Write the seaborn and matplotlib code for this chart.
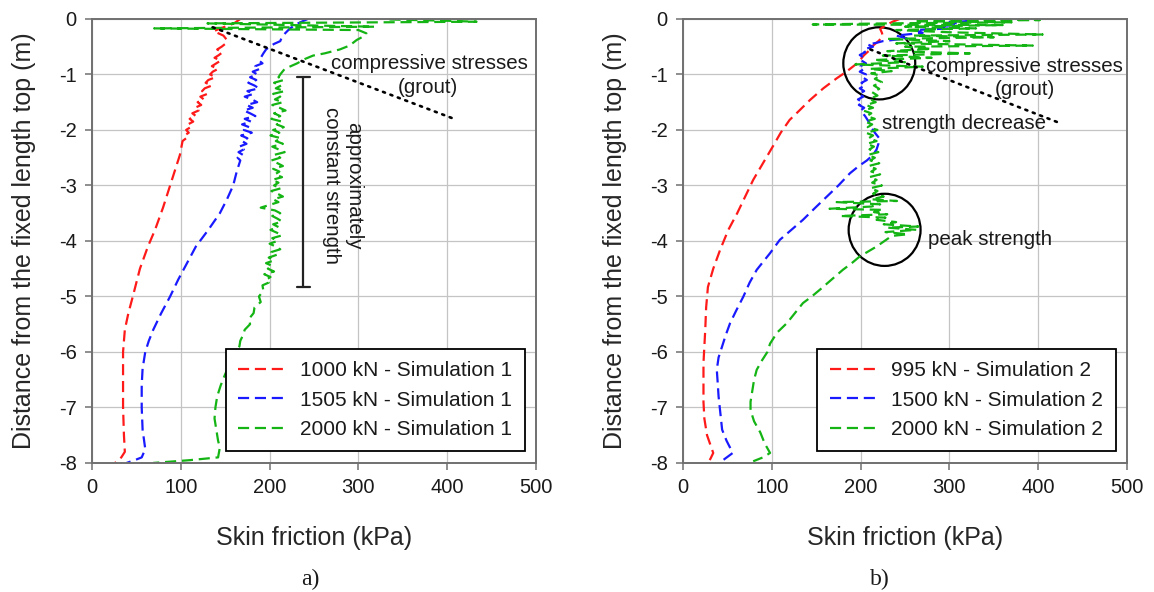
import matplotlib
matplotlib.use("Agg")
import matplotlib.pyplot as plt
from matplotlib.patches import Ellipse
import seaborn as sns

# ---------------- Simulation 1 (panel a) ----------------
s1_red_label = "1000 kN - Simulation 1"
s1_red_depth = [0.0, -0.08, -0.15, -0.22, -0.30, -0.38, -0.45,
                -0.50, -0.55, -0.60, -0.65, -0.70, -0.75, -0.80, -0.85, -0.90, -0.95,
                -1.00, -1.05, -1.10, -1.15, -1.20, -1.25, -1.30, -1.35, -1.40, -1.45,
                -1.50, -1.55, -1.60, -1.65, -1.70, -1.75, -1.80, -1.85, -1.90, -1.95,
                -2.00, -2.05, -2.10, -2.15, -2.20,
                -2.45, -2.65, -3.00, -3.40, -3.80, -4.10, -4.50, -5.00, -5.30, -5.60,
                -6.00, -6.50, -7.00, -7.50, -7.80, -7.90, -8.00]
s1_red_fric = [167, 160, 148, 137, 148, 152, 150,
               146, 141, 147, 143, 138, 145, 140, 135, 142, 136,
               133, 139, 131, 128, 135, 127, 124, 130, 122, 126,
               119, 123, 116, 120, 113, 117, 110, 114, 108, 111,
               106, 109, 104, 106, 102,
               99, 95, 88, 80, 71, 63, 54, 46, 41, 37,
               35, 35, 35, 36, 37, 33, 26]

s1_blue_label = "1505 kN - Simulation 1"
s1_blue_depth = [0.0, -0.08, -0.17, -0.25, -0.32, -0.40, -0.45, -0.50, -0.55, -0.62, -0.70,
                 -0.75, -0.80, -0.85, -0.90, -0.95, -1.00, -1.05, -1.10, -1.15, -1.20,
                 -1.25, -1.30, -1.35, -1.40, -1.45, -1.50, -1.55, -1.60, -1.65, -1.70,
                 -1.75, -1.80, -1.85, -1.90, -1.95, -2.00, -2.05, -2.10, -2.15, -2.20,
                 -2.25, -2.30, -2.35, -2.40, -2.45, -2.50, -2.55,
                 -2.75, -3.00, -3.25, -3.50, -3.80, -4.10, -4.40, -4.70, -5.00, -5.30,
                 -5.60, -5.80, -6.00, -6.30, -6.60, -7.00, -7.40, -7.75, -7.90, -7.95, -8.00]
s1_blue_fric = [243, 232, 223, 218, 214, 212, 205, 200, 196, 193, 190,
                188, 192, 184, 189, 181, 186, 178, 185, 176, 183,
                188, 175, 182, 172, 180, 186, 174, 181, 171, 178,
                184, 172, 179, 169, 177, 171, 180, 168, 175, 169,
                174, 166, 171, 165, 170, 164, 167,
                163, 159, 152, 144, 131, 117, 107, 97, 88, 78,
                69, 64, 60, 57, 56, 56, 57, 60, 56, 48, 39]

s1_green_label = "2000 kN - Simulation 1"
s1_green_depth = [-0.01, -0.03, -0.05, -0.08, -0.14, -0.17, -0.20, -0.26, -0.32, -0.38,
                  -0.48, -0.55, -0.62, -0.66, -0.72, -0.80, -0.90, -1.00,
                  -1.05, -1.10, -1.15, -1.20, -1.25, -1.30, -1.35, -1.40, -1.45, -1.50,
                  -1.55, -1.60, -1.65, -1.70, -1.75, -1.80, -1.85, -1.90, -1.95, -2.00,
                  -2.05, -2.10, -2.15, -2.20, -2.25, -2.30, -2.35, -2.40, -2.45, -2.50,
                  -2.55, -2.60, -2.65, -2.70, -2.75, -2.80, -2.85, -2.90, -2.95, -3.00,
                  -3.05, -3.10, -3.15, -3.20, -3.25, -3.30, -3.35, -3.40, -3.45, -3.50,
                  -3.55, -3.60, -3.65, -3.70, -3.75, -3.80, -3.85, -3.90, -3.95, -4.00,
                  -4.05, -4.10, -4.15, -4.20, -4.25, -4.30, -4.35, -4.40, -4.45, -4.50,
                  -4.55, -4.60, -4.65, -4.70, -4.75, -4.80,
                  -4.90, -5.00, -5.10, -5.20, -5.30, -5.40, -5.50, -5.60, -5.70, -5.80,
                  -5.90, -6.00, -6.20, -6.40, -6.60, -6.80, -7.00, -7.20, -7.40, -7.60,
                  -7.72, -7.90, -7.95, -8.00]
s1_green_fric = [335, 395, 433, 130, 318, 70, 300, 309, 305, 298,
                 290, 279, 262, 249, 240, 231, 217, 212,
                 210, 216, 205, 213, 207, 217, 204, 212, 206, 215,
                 203, 211, 218, 205, 212, 202, 214, 208, 216, 204,
                 211, 201, 213, 207, 215, 203, 210, 217, 205, 212,
                 202, 209, 215, 204, 211, 206, 214, 203, 210, 205,
                 213, 202, 209, 215, 204, 210, 200, 190, 206, 212,
                 203, 209, 214, 204, 210, 201, 208, 214, 203, 209,
                 200, 207, 212, 202, 208, 199, 205, 196, 203, 198,
                 205, 194, 201, 196, 199, 192,
                 193, 188, 190, 183, 182, 177, 178, 172, 170, 167,
                 166, 162, 156, 150, 145, 141, 139, 138, 140, 142,
                 144, 142, 110, 69]

# ---------------- Simulation 2 (panel b) ----------------
s2_red_label = "995 kN - Simulation 2"
s2_red_depth = [0.0, -0.05, -0.10, -0.18, -0.25, -0.32, -0.40, -0.48, -0.55, -0.65,
                -0.80, -0.95, -1.07, -1.25, -1.46, -1.65, -1.82, -2.05, -2.30, -2.60,
                -2.90, -3.20, -3.50, -3.80, -4.15, -4.50, -4.83, -5.20, -5.60, -6.20,
                -6.90, -7.20, -7.50, -7.82, -7.92, -8.00]
s2_red_fric = [244, 236, 230, 222, 224, 225, 220, 214, 211, 204,
               196, 184, 173, 158, 143, 131, 120, 110, 101, 90,
               79, 70, 61, 51, 42, 34, 28, 26, 25, 23,
               23, 24, 27, 34, 31, 28]

s2_blue_label = "1500 kN - Simulation 2"
s2_blue_depth = [0.00, -0.03, -0.06, -0.10, -0.13, -0.17, -0.20, -0.25, -0.30, -0.35,
                 -0.40, -0.43, -0.46, -0.50, -0.55,
                 -0.60, -0.65, -0.70, -0.75, -0.80, -0.85, -0.90, -0.95, -1.00, -1.05,
                 -1.10, -1.15, -1.20, -1.25, -1.30, -1.35, -1.40, -1.45, -1.50, -1.55,
                 -1.60, -1.65,
                 -1.75, -1.85, -1.95, -2.05, -2.15, -2.25, -2.35, -2.45, -2.55, -2.65,
                 -2.78, -3.00, -3.20, -3.40, -3.62, -3.80, -3.98, -4.22, -4.52, -4.75,
                 -5.00, -5.25, -5.48, -5.70, -5.90, -6.10, -6.32, -6.55, -6.80, -7.10,
                 -7.40, -7.60, -7.82, -7.95, -8.00]
s2_blue_fric = [318, 330, 300, 320, 285, 300, 262, 270, 240, 252,
                225, 218, 208, 214, 203,
                205, 199, 204, 201, 206, 200, 204, 199, 206, 202,
                207, 201, 205, 199, 204, 198, 203, 197, 202, 198,
                204, 200,
                205, 209, 212, 216, 221, 220, 218, 214, 207, 198,
                188, 175, 162, 149, 135, 122, 109, 98, 83, 75,
                68, 60, 53, 48, 44, 40, 38, 39, 40, 42,
                44, 49, 56, 45, 42]

s2_green_label = "2000 kN - Simulation 2"
s2_green_depth = [0.00, -0.02, -0.04, -0.06, -0.08, -0.10, -0.11, -0.14, -0.17, -0.20,
                  -0.24, -0.28, -0.30, -0.33, -0.36, -0.40, -0.44, -0.48, -0.50, -0.54,
                  -0.58, -0.62, -0.66, -0.70, -0.74, -0.78, -0.82, -0.86, -0.90, -0.94,
                  -0.98,
                  -1.02, -1.08, -1.14, -1.20, -1.26, -1.32, -1.38, -1.44, -1.50, -1.55,
                  -1.60, -1.65, -1.70, -1.75, -1.80, -1.85, -1.90, -1.95, -2.00, -2.05,
                  -2.10, -2.15, -2.20, -2.25, -2.30, -2.35, -2.40, -2.45, -2.50, -2.55,
                  -2.60, -2.65, -2.70, -2.75, -2.80, -2.85, -2.90, -2.95, -3.00, -3.05,
                  -3.10, -3.15, -3.20, -3.25, -3.28, -3.30, -3.34, -3.38, -3.42, -3.44,
                  -3.48, -3.52, -3.55, -3.58, -3.62, -3.66, -3.70, -3.74, -3.76, -3.80,
                  -3.84, -3.88, -3.91,
                  -4.10, -4.28, -4.40, -4.52, -4.70, -4.88, -5.00, -5.12, -5.30, -5.48,
                  -5.65, -5.85, -6.00, -6.15, -6.32, -6.50, -6.70, -6.90, -7.05, -7.25,
                  -7.45, -7.65, -7.82, -7.90, -7.97]
s2_green_fric = [300, 402, 260, 370, 230, 146, 360, 250, 330, 240,
                 300, 405, 260, 350, 230, 300, 240, 394, 250, 280,
                 230, 323, 225, 280, 215, 250, 194, 270, 210, 235,
                 212,
                 222, 216, 224, 215, 221, 213, 219, 210, 217, 206,
                 214, 203, 212, 207, 216, 205, 213, 208, 219, 206,
                 214, 209, 218, 207, 215, 210, 220, 208, 216, 211,
                 221, 209, 217, 212, 222, 210, 218, 213, 224, 211,
                 219, 214, 226, 212, 241, 173, 222, 212, 165, 225,
                 215, 230, 177, 228, 218, 240, 226, 265, 230, 263,
                 228, 253, 235,
                 218, 199, 190, 180, 167, 154, 145, 135, 126, 117,
                 106, 98, 95, 89, 83, 80, 78, 76, 76, 80,
                 87, 92, 98, 90, 79]

x_ticks = [0, 100, 200, 300, 400, 500]
y_ticks = [0, -1, -2, -3, -4, -5, -6, -7, -8]
x_label = "Skin friction (kPa)"
y_label = "Distance from the fixed length top (m)"

RED, BLUE, GREEN = "#ff1a1a", "#1a1aff", "#14b414"
DASH = (0, (5.0, 2.6))

sns.set_style("whitegrid", {"grid.color": "#c8c8c8", "axes.edgecolor": "#707070",
                            "xtick.bottom": True, "ytick.left": True})
plt.rcParams["font.family"] = ["Liberation Sans", "DejaVu Sans"]
plt.rcParams["text.color"] = "#1a1a1a"
plt.rcParams["axes.unicode_minus"] = False

fig = plt.figure(figsize=(11.54, 5.92), dpi=100)
ax_a = fig.add_axes([0.0797, 0.218, 0.3848, 0.750])
ax_b = fig.add_axes([0.5919, 0.218, 0.3847, 0.750])


def draw_series(ax, depth, fric, color, label):
    sns.lineplot(x=fric, y=depth, ax=ax, color=color, sort=False, estimator=None,
                 lw=1.6, linestyle=DASH, label=label)


def style_axes(ax):
    ax.set_xlim(0, 500)
    ax.set_ylim(-8, 0)
    ax.set_xticks(x_ticks)
    ax.set_yticks(y_ticks)
    ax.grid(True, color="#c4c4c4", lw=0.9)
    for sp in ax.spines.values():
        sp.set_color("#707070")
        sp.set_linewidth(1.4)
    ax.tick_params(direction="out", length=5, width=1.1, color="#707070",
                   labelsize=14.5, labelcolor="#1a1a1a", pad=6)
    ax.set_xlabel(x_label, fontsize=18)
    ax.set_ylabel(y_label, fontsize=18)
    ax.xaxis.set_label_coords(0.5, -0.142)
    ax.yaxis.set_label_coords(-0.127, 0.5)
    leg = ax.legend(loc="lower right", fontsize=15, frameon=True, fancybox=False,
                    edgecolor="black", framealpha=1, handlelength=2.4,
                    handletextpad=0.55, labelspacing=0.5, borderpad=0.6,
                    borderaxespad=0.55)
    leg.get_frame().set_linewidth(1.3)


# panel a
draw_series(ax_a, s1_red_depth, s1_red_fric, RED, s1_red_label)
draw_series(ax_a, s1_blue_depth, s1_blue_fric, BLUE, s1_blue_label)
draw_series(ax_a, s1_green_depth, s1_green_fric, GREEN, s1_green_label)
ax_a.plot([136, 411], [-0.15, -1.82], color="black", lw=1.9,
          linestyle=(0, (0.8, 2.2)), dash_capstyle="round")
ax_a.text(380, -0.8, "compressive stresses", ha="center", va="center", fontsize=14.8)
ax_a.text(378, -1.23, "(grout)", ha="center", va="center", fontsize=14.8)
ax_a.plot([238, 238], [-1.05, -4.83], color="#222222", lw=1.6)
ax_a.plot([231, 245], [-1.05, -1.05], color="#222222", lw=1.6)
ax_a.plot([231, 245], [-4.83, -4.83], color="#222222", lw=1.6)
ax_a.text(282, -3.0, "approximately\nconstant strength", rotation=-90,
          ha="center", va="center", multialignment="center", fontsize=14.8)
style_axes(ax_a)

# panel b
draw_series(ax_b, s2_red_depth, s2_red_fric, RED, s2_red_label)
draw_series(ax_b, s2_blue_depth, s2_blue_fric, BLUE, s2_blue_label)
draw_series(ax_b, s2_green_depth, s2_green_fric, GREEN, s2_green_label)
ax_b.plot([211, 425], [-0.55, -1.88], color="black", lw=1.9,
          linestyle=(0, (0.8, 2.2)), dash_capstyle="round")
ax_b.add_patch(Ellipse((221, -0.8), 81, 1.30, fill=False, ec="black", lw=1.6))
ax_b.add_patch(Ellipse((227, -3.8), 81, 1.30, fill=False, ec="black", lw=1.6))
ax_b.text(384, -0.85, "compressive stresses", ha="center", va="center", fontsize=14.8)
ax_b.text(385, -1.27, "(grout)", ha="center", va="center", fontsize=14.8)
ax_b.text(316, -1.88, "strength decrease", ha="center", va="center", fontsize=14.8)
ax_b.text(346, -3.98, "peak strength", ha="center", va="center", fontsize=14.8)
style_axes(ax_b)

fig.text(0.2686, 0.022, "a)", ha="center", va="center", fontsize=17,
         family=["Liberation Serif", "DejaVu Serif"])
fig.text(0.7626, 0.022, "b)", ha="center", va="center", fontsize=17,
         family=["Liberation Serif", "DejaVu Serif"])

fig.savefig("out.png", dpi=100)
